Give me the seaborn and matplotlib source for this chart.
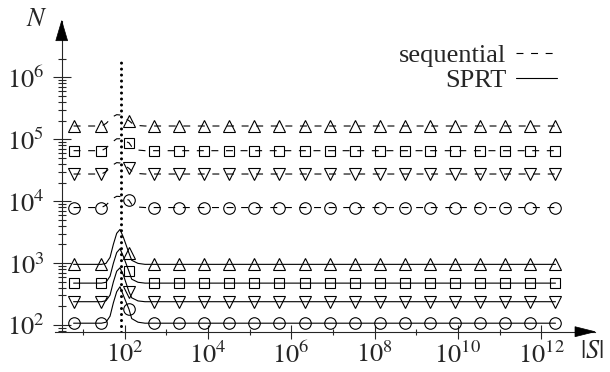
import matplotlib
matplotlib.use("Agg")
import matplotlib.pyplot as plt
import seaborn as sns
from matplotlib.patches import Polygon
from matplotlib.lines import Line2D

# ---------------- data ----------------
line_x = [6, 28, 36, 45, 54, 65, 78, 94, 128, 149, 211, 310,
          512, 2048, 8192, 32768, 131072, 524288, 2097152, 8388608,
          33554432, 134217728, 536870912, 2147483648, 8589934592,
          34359738368, 137438953472, 549755813888, 2199023255552]
marker_idx = [0, 1, 8, 12, 13, 14, 15, 16, 17, 18, 19, 20, 21, 22, 23,
              24, 25, 26, 27, 28]

seq_tri = [1.64e5, 1.64e5, 1.80e5, 2.09e5, 2.34e5, 2.50e5, 2.47e5, 2.29e5, 2.0e5, 1.83e5, 1.67e5, 1.64e5,
           1.64e5, 1.64e5, 1.64e5, 1.64e5, 1.64e5, 1.64e5, 1.64e5, 1.64e5, 1.64e5, 1.64e5, 1.64e5,
           1.64e5, 1.64e5, 1.64e5, 1.64e5, 1.64e5, 1.64e5]
seq_sq = [6.55e4, 6.55e4, 7.2e4, 8.35e4, 9.3e4, 1.02e5, 1.02e5, 9.5e4, 8.8e4, 7.6e4, 6.7e4, 6.55e4,
          6.55e4, 6.55e4, 6.55e4, 6.55e4, 6.55e4, 6.55e4, 6.55e4, 6.55e4, 6.55e4, 6.55e4, 6.55e4,
          6.55e4, 6.55e4, 6.55e4, 6.55e4, 6.55e4, 6.55e4]
seq_dtri = [2.75e4, 2.75e4, 3.0e4, 3.5e4, 3.9e4, 4.2e4, 4.15e4, 3.85e4, 3.4e4, 3.07e4, 2.8e4, 2.75e4,
            2.75e4, 2.75e4, 2.75e4, 2.75e4, 2.75e4, 2.75e4, 2.75e4, 2.75e4, 2.75e4, 2.75e4, 2.75e4,
            2.75e4, 2.75e4, 2.75e4, 2.75e4, 2.75e4, 2.75e4]
seq_circ = [7.9e3, 7.9e3, 8.65e3, 1.0e4, 1.12e4, 1.2e4, 1.19e4, 1.12e4, 1.04e4, 8.9e3, 8.05e3, 7.9e3,
            7.9e3, 7.9e3, 7.9e3, 7.9e3, 7.9e3, 7.9e3, 7.9e3, 7.9e3, 7.9e3, 7.9e3, 7.9e3,
            7.9e3, 7.9e3, 7.9e3, 7.9e3, 7.9e3, 7.9e3]

sprt_tri = [955, 955, 990, 1240, 2010, 3030, 3500, 2610, 1450, 1110, 990, 955,
            955, 955, 955, 955, 955, 955, 955, 955, 955, 955, 955, 955, 955, 955, 955, 955, 955]
sprt_sq = [475, 475, 490, 615, 990, 1480, 1710, 1280, 734, 550, 490, 475,
           475, 475, 475, 475, 475, 475, 475, 475, 475, 475, 475, 475, 475, 475, 475, 475, 475]
sprt_dtri = [238, 238, 247, 305, 495, 740, 840, 640, 345, 275, 245, 238,
             238, 238, 238, 238, 238, 238, 238, 238, 238, 238, 238, 238, 238, 238, 238, 238, 238]
sprt_circ = [107, 107, 111, 139, 228, 345, 415, 300, 180, 127, 111, 107,
             107, 107, 107, 107, 107, 107, 107, 107, 107, 107, 107, 107, 107, 107, 107, 107, 107]

threshold_x = 82
threshold_top = 1.8e6

x_major = [1e2, 1e4, 1e6, 1e8, 1e10, 1e12]
x_major_labels = [r"$10^{2}$", r"$10^{4}$", r"$10^{6}$", r"$10^{8}$", r"$10^{10}$", r"$10^{12}$"]
x_minor = [1e1, 1e3, 1e5, 1e7, 1e9, 1e11]
y_major = [1e2, 1e3, 1e4, 1e5, 1e6]
y_major_labels = [r"$10^{2}$", r"$10^{3}$", r"$10^{4}$", r"$10^{5}$", r"$10^{6}$"]
legend_labels = ["sequential", "SPRT"]

# ---------------- style ----------------
sns.set_style("ticks")
plt.rcParams["font.family"] = ["Liberation Serif", "DejaVu Serif"]
plt.rcParams["mathtext.fontset"] = "stix"
plt.rcParams["lines.scale_dashes"] = False

W, H = 610, 372
fig = plt.figure(figsize=(W / 100, H / 100), dpi=100)
ax_l, ax_r, ax_t, ax_b = 55, 595, 20.7, 331.7
ax = fig.add_axes([ax_l / W, 1 - ax_b / H, (ax_r - ax_l) / W, (ax_b - ax_t) / H])
ax.set_xscale("log")
ax.set_yscale("log")

dash = (0, (5, 5.5))
series = [
    (seq_tri, "^", dash), (seq_sq, "s", dash), (seq_dtri, "v", dash), (seq_circ, "o", dash),
    (sprt_tri, "^", "-"), (sprt_sq, "s", "-"), (sprt_dtri, "v", "-"), (sprt_circ, "o", "-"),
]
for vals, mk, ls in series:
    sns.lineplot(x=line_x, y=vals, ax=ax, color="k", lw=0.8, linestyle=ls,
                 marker=mk, markevery=marker_idx, ms=8.3 if mk != "s" else 7.8,
                 mfc="none", mec="k", mew=0.8, estimator=None, sort=False)

y_lo, y_hi = 10 ** 1.892, 10 ** 6.916
ax.plot([threshold_x, threshold_x], [y_lo, threshold_top], color="k",
        lw=2.2, linestyle=(0, (0.01, 4.3)), dash_capstyle="round")

ax.set_xlim(10 ** 0.332, 10 ** 13.291)
ax.set_ylim(y_lo, y_hi)

# ---------------- axes ----------------
for s in ["top", "right"]:
    ax.spines[s].set_visible(False)
ax.spines["left"].set_position(("axes", (61.7 - ax_l) / (ax_r - ax_l)))
ax.spines["left"].set_linewidth(0.8)
ax.spines["bottom"].set_linewidth(0.8)

ax.set_xticks(x_major)
ax.set_xticklabels(x_major_labels)
ax.set_xticks(x_minor, minor=True)
ax.set_yticks(y_major)
ax.set_yticklabels(y_major_labels)
y_minor = [m * 10 ** e for e in range(1, 6) for m in range(2, 10)] + [2e6]
ax.set_yticks(y_minor, minor=True)
ax.yaxis.set_minor_formatter(plt.NullFormatter())
ax.xaxis.set_minor_formatter(plt.NullFormatter())
ax.set_xlim(10 ** 0.332, 10 ** 13.291)
ax.set_ylim(y_lo, y_hi)

ax.tick_params(axis="x", which="major", direction="inout", length=10, width=0.8,
               labelsize=19, pad=2)
ax.tick_params(axis="x", which="minor", direction="inout", length=5, width=0.8)
ax.tick_params(axis="y", which="major", direction="inout", length=13, width=0.8,
               labelsize=19, pad=6)
ax.tick_params(axis="y", which="minor", direction="inout", length=5.8, width=0.8)
ax.set_xlabel("")
ax.set_ylabel("")

# arrow heads (figure pixel coordinates)
def px(x, y):
    return (x / W, 1 - y / H)

fig.patches.append(Polygon([px(61.7, 20.7), px(55.8, 40.7), px(67.6, 40.7)], closed=True,
                           fc="k", ec="k", lw=0.5, transform=fig.transFigure))
fig.patches.append(Polygon([px(595, 331.7), px(575, 326.7), px(575, 336.7)], closed=True,
                           fc="k", ec="k", lw=0.5, transform=fig.transFigure))

fig.text(36.5 / W, 1 - 19.5 / H, r"$N$", fontsize=19, ha="center", va="center")
fig.text(592 / W, 1 - 352 / H, r"$|S|$", fontsize=19, ha="center", va="center")

handles = [Line2D([], [], color="k", lw=0.8, linestyle=dash),
           Line2D([], [], color="k", lw=0.8, linestyle="-")]
ax.legend(handles, legend_labels, loc="upper right", bbox_to_anchor=(557 / W, 1 - 44 / H),
          bbox_transform=fig.transFigure, frameon=False, markerfirst=False,
          fontsize=19, handlelength=1.55, handletextpad=0.36, labelspacing=0.05,
          borderpad=0, borderaxespad=0)

fig.savefig("out.png", dpi=100)
